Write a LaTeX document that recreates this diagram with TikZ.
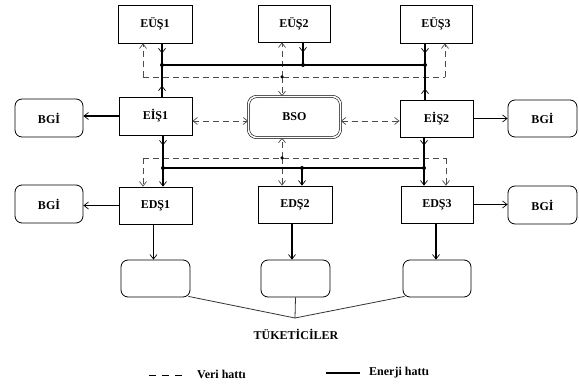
\documentclass[tikz,border=0pt]{standalone}
\usepackage{fontspec}
\setmainfont{Liberation Serif}
\usetikzlibrary{arrows.meta}
\begin{document}
\begin{tikzpicture}[x=1pt,y=-1pt,
  box/.style={draw,line width=0.8pt,inner sep=0pt,font=\fontsize{12}{14}\selectfont\bfseries},
  rbox/.style={box,rounded corners=7pt},
  energy/.style={line width=1.7pt},
  data/.style={line width=0.9pt,draw=black!70,dash pattern=on 6pt off 4pt},
  cons/.style={line width=0.8pt,draw=black!80},
  tip/.style={-{Straight Barb[length=4.5pt,width=7pt,line width=0.7pt]}},
  tiptwo/.style={{Straight Barb[length=4.5pt,width=7pt,line width=0.7pt]}-{Straight Barb[length=4.5pt,width=7pt,line width=0.7pt]}},
  dot/.style={circle,fill=black,inner sep=0pt,minimum size=4pt},
  lbl/.style={font=\fontsize{12}{14}\selectfont\bfseries,inner sep=0pt}
]
\fill[white] (0,0) rectangle (579,387);
\useasboundingbox (0,0) rectangle (579,387);

% nodes
\node[box,minimum width=74pt,minimum height=38pt] (eus1) at (155,24) {EÜŞ1};
\node[box,minimum width=72pt,minimum height=37pt] (eus2) at (294,23.5) {EÜŞ2};
\node[box,minimum width=72pt,minimum height=38pt] (eus3) at (436,24) {EÜŞ3};

\node[rbox,minimum width=68pt,minimum height=38pt] (bgi1) at (49,118) {BGİ};
\node[box,minimum width=73pt,minimum height=38pt] (eis1) at (155.5,116) {EİŞ1};
\node[box,rounded corners=8pt,double,double distance=1.6pt,line width=0.6pt,minimum width=92pt,minimum height=41pt] (bso) at (294.5,117) {BSO};
\node[box,minimum width=73pt,minimum height=37pt] (eis2) at (436.5,118.5) {EİŞ2};
\node[rbox,minimum width=69pt,minimum height=37pt] (bgi2) at (542.5,118.5) {BGİ};

\node[rbox,minimum width=68pt,minimum height=38pt] (bgi3) at (49,204) {BGİ};
\node[box,minimum width=73pt,minimum height=37pt] (eds1) at (155.5,205.5) {EDŞ1};
\node[box,minimum width=74pt,minimum height=37pt] (eds2) at (295,204.5) {EDŞ2};
\node[box,minimum width=72pt,minimum height=37pt] (eds3) at (437,204.5) {EDŞ3};
\node[rbox,minimum width=69pt,minimum height=38pt] (bgi4) at (542.5,205) {BGİ};

\node[rbox,minimum width=69pt,minimum height=37pt] (c1) at (155.5,278.5) {};
\node[rbox,minimum width=69pt,minimum height=37pt] (c2) at (295.5,278.5) {};
\node[rbox,minimum width=68pt,minimum height=37pt] (c3) at (437,278.5) {};

\node[lbl] (tk) at (296,334) {TÜKETİCİLER};

% junction coordinates
\coordinate (tb1) at (162,65);
\coordinate (tb2) at (303,65);
\coordinate (tb3) at (425,65);
\coordinate (td1) at (143,77);
\coordinate (td2) at (282,77);
\coordinate (td3) at (445,77);
\coordinate (lb1) at (163,168);
\coordinate (lb2) at (302,168);
\coordinate (lb3) at (424,168);
\coordinate (ld1) at (143,158);
\coordinate (ld2) at (282,158);
\coordinate (ld3) at (446,158);
\coordinate (cm) at (295,318);

% top data lines
\draw[data] (td1) -- (td3);
\draw[data,tip] (td1) -- (eus1.south -| td1);
\draw[data,tip] (td3) -- (eus3.south -| td3);
\draw[data,tip] (td2) -- (eus2.south -| td2);
\draw[data,tip] (td2) -- (bso.north -| td2);

% top energy bus
\draw[energy] (eus1.south -| tb1) -- (tb1) -- (tb3);
\draw[energy,tip] (eus1.south -| tb1) -- ++(0,10);
\draw[energy] (eus2.south -| tb2) -- (tb2);
\draw[energy,tip] (eus2.south -| tb2) -- ++(0,10);
\draw[energy] (eus3.south -| tb3) -- (tb3);
\draw[energy,tip] (eus3.south -| tb3) -- ++(0,10);
\draw[energy] (eis1.north -| tb1) -- (tb1);
\draw[energy,tip] (eis1.north -| tb1) -- ++(0,-11);
\draw[energy] (eis2.north -| tb3) -- (tb3);
\draw[energy,tip] (eis2.north -| tb3) -- ++(0,-11);
\node[dot] at (tb1) {};
\node[dot] at (tb2) {};
\node[dot] at (tb3) {};
\node[dot,minimum size=3.5pt] at (td2) {};

% middle row
\draw[energy,tip] (eis1.west) -- (eis1.west -| bgi1.east);
\draw[energy,tip] (eis2.east) -- (eis2.east -| bgi2.west);
\draw[data,tiptwo] ([yshift=-5pt]eis1.east) -- ([yshift=-5pt]eis1.east -| bso.west);
\draw[data,tiptwo] ([yshift=-2.5pt]eis2.west -| bso.east) -- ([yshift=-2.5pt]eis2.west);

% lower data lines
\draw[data] (ld1) -- (ld3);
\draw[data,tip] (ld1) -- (eds1.north -| ld1);
\draw[data,tip] (ld3) -- (eds3.north -| ld3);
\draw[data,tip] (ld2) -- (bso.south -| ld2);
\draw[data,tip] (ld2) -- (eds2.north -| ld2);

% lower energy bus
\draw[energy] (eis1.south -| lb1) -- (lb1) -- (lb3);
\draw[energy,tip] (eis1.south -| lb1) -- ++(0,10);
\draw[energy,tip] (lb1) -- (eds1.north -| lb1);
\draw[energy,tip] (lb2) -- (eds2.north -| lb2);
\draw[energy] (eis2.south -| lb3) -- (lb3);
\draw[energy,tip] (eis2.south -| lb3) -- ++(0,8);
\draw[energy,tip] (lb3) -- (eds3.north -| lb3);
\node[dot] at (lb1) {};
\node[dot] at (lb2) {};
\node[dot] at (lb3) {};
\node[dot,minimum size=3.5pt] at (ld2) {};

% EDS row
\draw[energy,tip] (eds1.west) -- (eds1.west -| bgi3.east);
\draw[energy,tip] (eds3.east) -- (eds3.east -| bgi4.west);
\draw[energy,tip] ([xshift=-2pt]eds1.south) -- ([xshift=-2pt]eds1.south |- c1.north);
\draw[energy,tip] ([xshift=-3pt]eds2.south) -- ([xshift=-3pt]eds2.south |- c2.north);
\draw[energy,tip] ([xshift=-1pt]eds3.south) -- ([xshift=-1pt]eds3.south |- c3.north);

% consumers
\draw[cons] ([xshift=-2pt,yshift=1pt]c1.south east) -- (cm);
\draw[cons] (c2.south) -- (cm);
\draw[cons] ([xshift=2pt,yshift=1pt]c3.south west) -- (cm);

% legend
\coordinate (la) at (149,375);
\coordinate (lb) at (188,375);
\coordinate (lc) at (326,373);
\coordinate (ld) at (360,373);
\draw[line width=0.9pt,dash pattern=on 7pt off 6pt] (la) -- (lb);
\node[lbl,anchor=west] (vl) at (197,374) {Veri hattı};
\draw[line width=1.7pt] (lc) -- (ld);
\node[lbl,anchor=west] (el) at (369,373) {Enerji hattı};
\end{tikzpicture}
\end{document}
